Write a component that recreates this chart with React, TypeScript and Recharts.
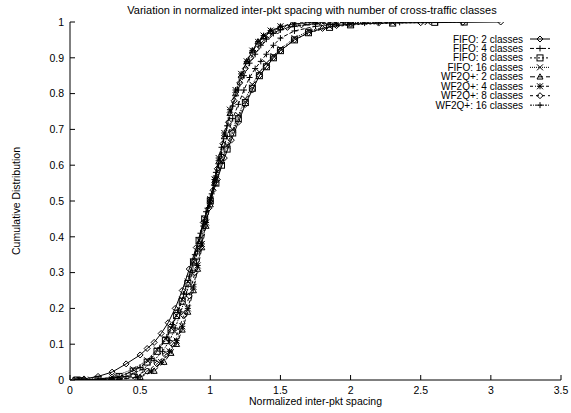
import { LineChart, Line, XAxis, YAxis, Legend, Label } from "recharts";

// CDF points, one x/y pair of arrays per series
const fifo2X = [0.03, 0.1, 0.2, 0.3, 0.4, 0.5, 0.55, 0.6, 0.65, 0.7, 0.75, 0.8, 0.85, 0.9, 0.95, 1.0, 1.05, 1.1, 1.15, 1.2, 1.25, 1.3, 1.35, 1.4, 1.45, 1.5, 1.6, 1.7, 1.8, 1.9, 2.0, 2.2, 2.5, 2.8, 3.07];
const fifo2Y = [0, 0.003, 0.01, 0.022, 0.045, 0.07, 0.088, 0.105, 0.13, 0.16, 0.2, 0.25, 0.31, 0.37, 0.44, 0.5, 0.56, 0.62, 0.67, 0.72, 0.77, 0.81, 0.85, 0.875, 0.9, 0.92, 0.95, 0.97, 0.982, 0.99, 0.994, 0.997, 0.998, 0.999, 1];

const fifo4X = [0.06, 0.2, 0.35, 0.5, 0.58, 0.64, 0.69, 0.73, 0.77, 0.81, 0.85, 0.89, 0.93, 0.97, 1.0, 1.04, 1.08, 1.12, 1.16, 1.2, 1.24, 1.28, 1.32, 1.36, 1.4, 1.45, 1.5, 1.6, 1.75, 1.9, 2.1, 2.35, 2.62];
const fifo4Y = [0, 0.002, 0.008, 0.035, 0.06, 0.09, 0.12, 0.155, 0.195, 0.24, 0.29, 0.35, 0.41, 0.47, 0.51, 0.57, 0.63, 0.68, 0.73, 0.77, 0.81, 0.845, 0.87, 0.89, 0.91, 0.935, 0.955, 0.975, 0.988, 0.994, 0.997, 0.999, 1];

const fifo8X = [0.05, 0.2, 0.35, 0.45, 0.55, 0.62, 0.68, 0.72, 0.76, 0.8, 0.84, 0.88, 0.92, 0.96, 1.0, 1.04, 1.08, 1.12, 1.16, 1.2, 1.25, 1.3, 1.35, 1.4, 1.45, 1.5, 1.6, 1.7, 1.85, 2.0, 2.3, 2.6, 2.81];
const fifo8Y = [0, 0.002, 0.01, 0.025, 0.05, 0.08, 0.11, 0.14, 0.18, 0.22, 0.27, 0.33, 0.39, 0.45, 0.5, 0.55, 0.6, 0.645, 0.69, 0.73, 0.775, 0.815, 0.85, 0.875, 0.9, 0.92, 0.95, 0.97, 0.985, 0.992, 0.997, 0.999, 1];

const fifo16X = [0.04, 0.15, 0.3, 0.45, 0.55, 0.62, 0.68, 0.72, 0.76, 0.8, 0.84, 0.88, 0.92, 0.96, 1.0, 1.04, 1.08, 1.12, 1.16, 1.2, 1.25, 1.3, 1.35, 1.4, 1.45, 1.5, 1.6, 1.7, 1.85, 2.0, 2.3, 2.55];
const fifo16Y = [0, 0.001, 0.008, 0.03, 0.055, 0.085, 0.115, 0.145, 0.18, 0.225, 0.275, 0.33, 0.39, 0.45, 0.505, 0.56, 0.61, 0.655, 0.7, 0.74, 0.785, 0.825, 0.86, 0.885, 0.905, 0.925, 0.955, 0.975, 0.988, 0.994, 0.998, 1];

const wf2X = [0.1, 0.35, 0.5, 0.6, 0.67, 0.72, 0.76, 0.8, 0.84, 0.88, 0.91, 0.94, 0.97, 1.0, 1.03, 1.06, 1.1, 1.14, 1.18, 1.22, 1.26, 1.3, 1.34, 1.38, 1.43, 1.5, 1.58, 1.69, 1.87];
const wf2Y = [0, 0.002, 0.008, 0.025, 0.05, 0.075, 0.1, 0.14, 0.19, 0.25, 0.31, 0.37, 0.43, 0.49, 0.55, 0.61, 0.68, 0.745, 0.8, 0.85, 0.89, 0.92, 0.945, 0.96, 0.975, 0.986, 0.993, 0.998, 1];

const wf4X = [0.07, 0.3, 0.48, 0.58, 0.65, 0.71, 0.76, 0.8, 0.84, 0.88, 0.91, 0.94, 0.97, 1.0, 1.03, 1.06, 1.1, 1.14, 1.18, 1.22, 1.26, 1.3, 1.34, 1.38, 1.43, 1.5, 1.6, 1.76];
const wf4Y = [0, 0.002, 0.008, 0.025, 0.05, 0.08, 0.11, 0.15, 0.2, 0.26, 0.32, 0.38, 0.44, 0.5, 0.56, 0.62, 0.69, 0.755, 0.81, 0.855, 0.89, 0.92, 0.945, 0.962, 0.976, 0.988, 0.995, 1];

const wf8X = [0.08, 0.3, 0.45, 0.55, 0.62, 0.68, 0.73, 0.77, 0.81, 0.85, 0.89, 0.93, 0.96, 0.99, 1.02, 1.05, 1.09, 1.13, 1.17, 1.21, 1.25, 1.29, 1.33, 1.37, 1.42, 1.48, 1.55, 1.65, 1.8, 2.0];
const wf8Y = [0, 0.003, 0.012, 0.025, 0.045, 0.07, 0.1, 0.135, 0.18, 0.235, 0.3, 0.37, 0.43, 0.48, 0.53, 0.59, 0.66, 0.72, 0.78, 0.83, 0.87, 0.9, 0.925, 0.945, 0.962, 0.975, 0.985, 0.992, 0.997, 1];

const wf16X = [0.05, 0.2, 0.4, 0.52, 0.6, 0.66, 0.71, 0.75, 0.79, 0.83, 0.87, 0.91, 0.95, 0.98, 1.01, 1.04, 1.08, 1.12, 1.16, 1.2, 1.24, 1.28, 1.32, 1.36, 1.4, 1.45, 1.5, 1.6, 1.75, 1.95, 2.2];
const wf16Y = [0, 0.002, 0.01, 0.03, 0.055, 0.08, 0.11, 0.145, 0.19, 0.24, 0.3, 0.36, 0.43, 0.48, 0.52, 0.58, 0.65, 0.71, 0.765, 0.81, 0.85, 0.885, 0.91, 0.935, 0.952, 0.968, 0.978, 0.988, 0.995, 0.998, 1];

const xTicks = [0, 0.5, 1, 1.5, 2, 2.5, 3, 3.5];
const yTicks = [0, 0.1, 0.2, 0.3, 0.4, 0.5, 0.6, 0.7, 0.8, 0.9, 1];

const toPoints = (xs: number[], ys: number[]) => xs.map((x, i) => ({ x, y: ys[i] }));

const series = [
  { name: "FIFO: 2 classes", data: toPoints(fifo2X, fifo2Y), shape: "diamond", dash: undefined },
  { name: "FIFO: 4 classes", data: toPoints(fifo4X, fifo4Y), shape: "plus", dash: "4 2" },
  { name: "FIFO: 8 classes", data: toPoints(fifo8X, fifo8Y), shape: "square", dash: "2 2" },
  { name: "FIFO: 16 classes", data: toPoints(fifo16X, fifo16Y), shape: "cross", dash: "1 1" },
  { name: "WF2Q+: 2 classes", data: toPoints(wf2X, wf2Y), shape: "triangle", dash: "5 3" },
  { name: "WF2Q+: 4 classes", data: toPoints(wf4X, wf4Y), shape: "star", dash: "3 2 1 2" },
  { name: "WF2Q+: 8 classes", data: toPoints(wf8X, wf8Y), shape: "diamond", dash: "3 3" },
  { name: "WF2Q+: 16 classes", data: toPoints(wf16X, wf16Y), shape: "plus", dash: "2 1 1 1" },
];

const FONT = "'Liberation Sans', Arial, Helvetica, sans-serif";
const FS = 10.5;
const LEG_FS = 10;

function Marker({ shape, cx, cy }: { shape: string; cx: number; cy: number }) {
  const s = 3;
  const p = { stroke: "#000", strokeWidth: 1, fill: "none" };
  if (shape === "diamond")
    return <polygon {...p} points={`${cx},${cy - s} ${cx + s},${cy} ${cx},${cy + s} ${cx - s},${cy}`} />;
  if (shape === "plus") return <path {...p} d={`M${cx - s},${cy}H${cx + s}M${cx},${cy - s}V${cy + s}`} />;
  if (shape === "square") return <rect {...p} x={cx - s} y={cy - s} width={2 * s} height={2 * s} />;
  if (shape === "cross")
    return <path {...p} d={`M${cx - s},${cy - s}L${cx + s},${cy + s}M${cx - s},${cy + s}L${cx + s},${cy - s}`} />;
  if (shape === "triangle")
    return <polygon {...p} points={`${cx},${cy - s} ${cx + s},${cy + s * 0.75} ${cx - s},${cy + s * 0.75}`} />;
  return (
    <path
      {...p}
      d={`M${cx - s},${cy}H${cx + s}M${cx},${cy - s}V${cy + s}M${cx - s},${cy - s}L${cx + s},${cy + s}M${cx - s},${cy + s}L${cx + s},${cy - s}`}
    />
  );
}

function LegendBox() {
  return (
    <svg width={160} height={84} style={{ display: "block", fontFamily: FONT }}>
      {series.map((s, i) => {
        const y = 7 + i * 9.45;
        return (
          <g key={s.name}>
            <text x={123} y={y} textAnchor="end" dominantBaseline="central" fontSize={LEG_FS} fill="#000">
              {s.name}
            </text>
            <line x1={130} x2={150} y1={y} y2={y} stroke="#000" strokeDasharray={s.dash} />
            <Marker shape={s.shape} cx={140} cy={y} />
          </g>
        );
      })}
    </svg>
  );
}

const tickStyle = { fill: "#000", fontSize: FS, fontFamily: FONT };

export default function App() {
  return (
    <div style={{ position: "absolute", left: 0, top: 0, width: 571, height: 413 }}>
      <div
        style={{
          position: "absolute",
          left: 312,
          top: 4,
          transform: "translateX(-50%)",
          whiteSpace: "nowrap",
          fontFamily: FONT,
          fontSize: 11,
          lineHeight: "12px",
          color: "#000",
        }}
      >
        Variation in normalized inter-pkt spacing with number of cross-traffic classes
      </div>
      <LineChart
        width={571}
        height={413}
        margin={{ top: 22, right: 10, left: 0, bottom: 0 }}
        style={{ fontFamily: FONT }}
      >
        <XAxis
          xAxisId="main"
          type="number"
          dataKey="x"
          domain={[0, 3.5]}
          ticks={xTicks}
          allowDataOverflow
          height={33}
          tickSize={-5}
          tickMargin={12}
          tick={tickStyle}
          axisLine={{ stroke: "#000" }}
          tickLine={{ stroke: "#000" }}
        >
          <Label value="Normalized inter-pkt spacing" position="insideBottom" offset={8} fill="#000" fontSize={FS} />
        </XAxis>
        <XAxis
          xAxisId="top"
          orientation="top"
          type="number"
          dataKey="x"
          domain={[0, 3.5]}
          ticks={xTicks}
          allowDataOverflow
          height={0}
          tickSize={-5}
          tick={false}
          axisLine={{ stroke: "#000" }}
          tickLine={{ stroke: "#000" }}
        />
        <YAxis
          yAxisId="main"
          type="number"
          domain={[0, 1]}
          ticks={yTicks}
          allowDataOverflow
          width={70}
          tickSize={-5}
          tickMargin={11}
          tick={tickStyle}
          axisLine={{ stroke: "#000" }}
          tickLine={{ stroke: "#000" }}
        >
          <Label
            value="Cumulative Distribution"
            angle={-90}
            position="insideLeft"
            offset={16}
            fill="#000"
            fontSize={FS}
            style={{ textAnchor: "middle" }}
          />
        </YAxis>
        <YAxis
          yAxisId="right"
          orientation="right"
          type="number"
          domain={[0, 1]}
          ticks={yTicks}
          allowDataOverflow
          width={0}
          tickSize={-5}
          tick={false}
          axisLine={{ stroke: "#000" }}
          tickLine={{ stroke: "#000" }}
        />
        <Legend
          layout="vertical"
          align="center"
          verticalAlign="middle"
          wrapperStyle={{ position: "absolute", left: 400, top: 32, width: 160, height: 84 }}
          content={() => <LegendBox />}
        />
        {series.map((s) => (
          <Line
            key={s.name}
            name={s.name}
            xAxisId="main"
            yAxisId="main"
            data={s.data}
            dataKey="y"
            type="linear"
            stroke="#000"
            strokeWidth={1}
            strokeDasharray={s.dash}
            isAnimationActive={false}
            activeDot={false}
            dot={(p: any) => <Marker key={`${s.name}-${p.index}`} shape={s.shape} cx={p.cx} cy={p.cy} />}
          />
        ))}
      </LineChart>
    </div>
  );
}
